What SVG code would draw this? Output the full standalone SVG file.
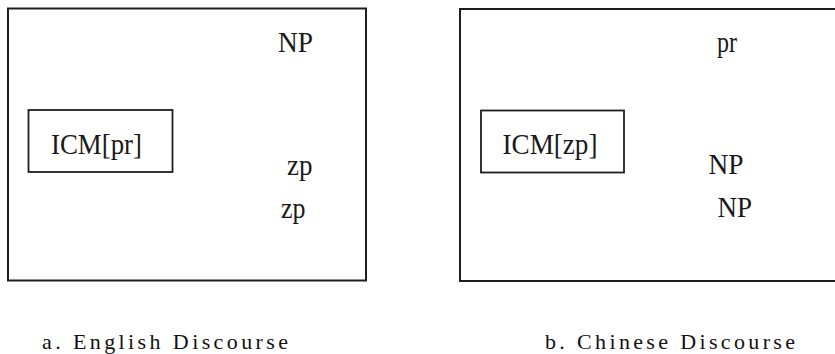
<svg xmlns="http://www.w3.org/2000/svg" width="835" height="354" viewBox="0 0 835 354">
  <style>
    .frame { fill: none; stroke: #1e1e1e; stroke-width: 2; }
    .icm { fill: none; stroke: #1e1e1e; stroke-width: 1.8; }
    .lbl { font-size: 29px; fill: #1a1a1a; }
    .cap { font-size: 22px; fill: #111; }
  </style>
  <rect width="835" height="354" fill="#ffffff"/>

  <g font-family="'Liberation Serif', 'DejaVu Serif', 'Times New Roman', serif">
    <!-- (a) English discourse -->
    <g id="english-discourse">
      <rect class="frame" x="8" y="8.5" width="358" height="272"/>
      <g id="icm-pr">
        <rect class="icm" x="28.5" y="110" width="144" height="62"/>
        <text class="lbl" x="51" y="154" textLength="91" lengthAdjust="spacingAndGlyphs">ICM[pr]</text>
      </g>
      <text id="en-np" class="lbl" x="278" y="52" textLength="35" lengthAdjust="spacingAndGlyphs">NP</text>
      <text id="en-zp1" class="lbl" x="287" y="175" textLength="25.5" lengthAdjust="spacingAndGlyphs">zp</text>
      <text id="en-zp2" class="lbl" x="281" y="217.5" textLength="24.5" lengthAdjust="spacingAndGlyphs">zp</text>
      <text class="cap" x="42" y="348.5" textLength="246" lengthAdjust="spacing">a.  English Discourse</text>
    </g>

    <!-- (b) Chinese discourse -->
    <g id="chinese-discourse">
      <rect class="frame" x="460" y="9" width="390" height="272"/>
      <g id="icm-zp">
        <rect class="icm" x="481" y="110.5" width="143" height="62"/>
        <text class="lbl" x="502.5" y="154" textLength="95" lengthAdjust="spacingAndGlyphs">ICM[zp]</text>
      </g>
      <text id="zh-pr" class="lbl" x="717" y="52" textLength="20" lengthAdjust="spacingAndGlyphs">pr</text>
      <text id="zh-np1" class="lbl" x="708.5" y="173.5" textLength="35" lengthAdjust="spacingAndGlyphs">NP</text>
      <text id="zh-np2" class="lbl" x="717.5" y="217" textLength="34.5" lengthAdjust="spacingAndGlyphs">NP</text>
      <text class="cap" x="545" y="349" textLength="250" lengthAdjust="spacing">b.  Chinese Discourse</text>
    </g>
  </g>

  <!-- no connectors in this figure -->
  <g id="connectors"/>
</svg>
